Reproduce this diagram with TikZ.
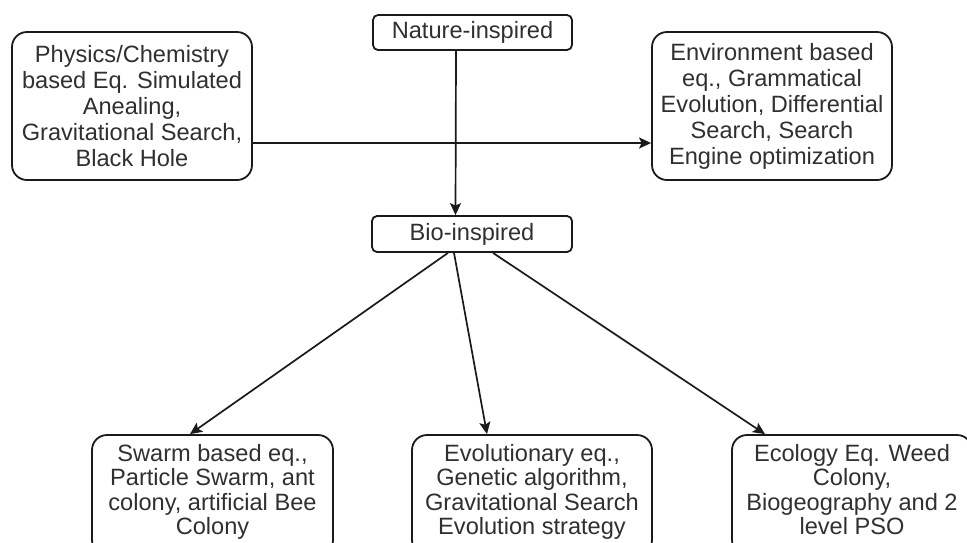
\documentclass[tikz,border=0pt]{standalone}
\usepackage{fontspec}
\setmainfont{Liberation Sans}
\usetikzlibrary{arrows.meta}
\definecolor{ink}{HTML}{1A1A1A}
\definecolor{txt}{HTML}{303030}
\begin{document}
\begin{tikzpicture}[x=1pt,y=-1pt,
  box/.style={draw=ink, line width=1.8pt, rounded corners=15pt, inner sep=0pt,
    align=center, text=txt, font=\fontsize{23.6}{26}\selectfont},
  tag/.style={draw=ink, line width=1.8pt, rounded corners=5pt, inner sep=0pt,
    align=center, text=txt, font=\fontsize{23.6}{26}\selectfont},
  leaf/.style={box, font=\fontsize{23.6}{24.5}\selectfont, text depth=11pt},
  arr/.style={draw=ink, line width=1.7pt, -{Stealth[length=12pt,width=11pt,inset=2.5pt]}}]
\useasboundingbox (0,0) rectangle (967,542);
\clip (0,0) rectangle (967,542);
\fill[white] (0,0) rectangle (967,542);

% top row
\node[tag, minimum width=199pt, minimum height=35pt] (nat) at (472.5,32.5) {Nature-inspired};
\node[box, minimum width=240pt, minimum height=148pt] (phys) at (132,106)
  {Physics/Chemistry\\based Eq. Simulated\\Anealing,\\Gravitational Search,\\Black Hole};
\node[box, minimum width=240pt, minimum height=148pt] (env) at (772,106)
  {Environment based\\eq., Grammatical\\Evolution, Differential\\Search, Search\\Engine optimization};

% middle
\node[tag, minimum width=200pt, minimum height=36pt] (bio) at (472,234) {Bio-inspired};

% bottom row (the boxes run past the lower edge)
\node[leaf, minimum width=241pt, minimum height=120pt] (swarm) at (212.5,495)
  {Swarm based eq.,\\Particle Swarm, ant\\colony, artificial Bee\\Colony};
\node[leaf, minimum width=240pt, minimum height=120pt] (evo) at (532,495)
  {Evolutionary eq.,\\Genetic algorithm,\\Gravitational Search\\Evolution strategy};
\node[leaf, minimum width=240pt, minimum height=120pt] (eco) at (852,495)
  {Ecology Eq. Weed\\Colony,\\Biogeography and 2\\level PSO};

% connectors
\draw[arr] ([xshift=-16.5pt]nat.south) -- ([xshift=-16.5pt]bio.north);
\draw[arr] ([yshift=-37pt]phys.east) -- ([yshift=-37pt]env.west);
\draw[arr] ([xshift=-24pt]bio.south) -- ([xshift=-22.5pt]swarm.north);
\draw[arr] ([xshift=-18pt]bio.south) -- ([xshift=-45pt]evo.north);
\draw[arr] ([xshift=21pt]bio.south) -- ([xshift=-87pt]eco.north);
\end{tikzpicture}
\end{document}
